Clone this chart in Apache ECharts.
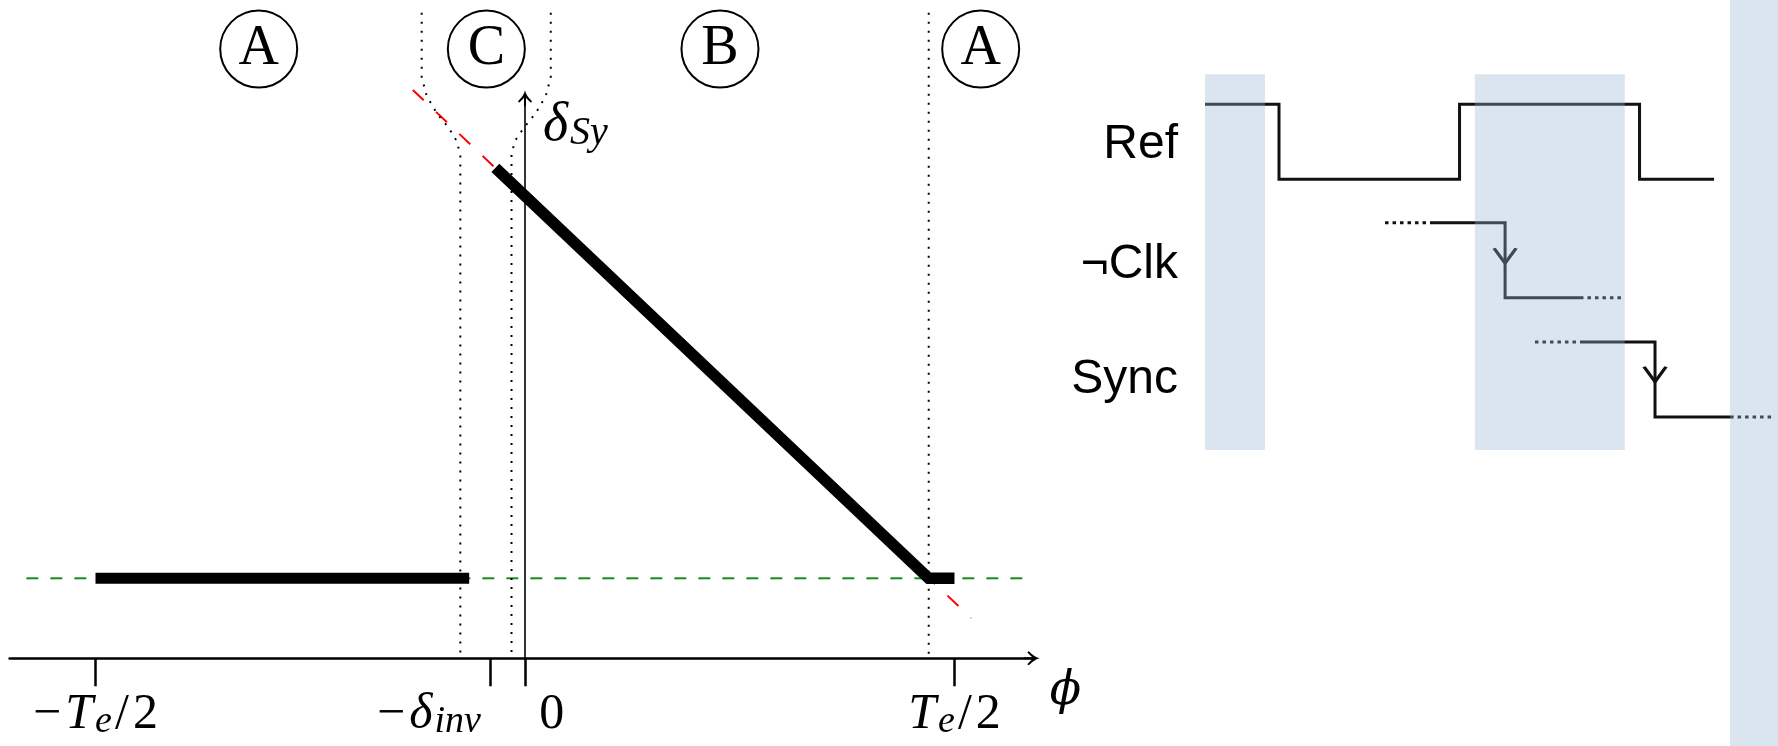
<!DOCTYPE html>
<html><head><meta charset="utf-8">
<script src="https://cdn.jsdelivr.net/npm/echarts@6/dist/echarts.min.js"></script>
<style>html,body{margin:0;padding:0;background:#fff}#c{width:1778px;height:746px}</style>
</head><body><div id="c"></div>
<script>
// ===== Left panel: delta_Sy versus phi (phi in units of Te/2) =====
const tickValues = [-1, -0.0805, 0, 1];
const labelAt    = [-1, -0.2235, 0.0624, 1];
const tickLabels = ['{m|−}{i|T}{s|e}{sl|/}{r|2}', '{m|−}{i|δ}{s|inv}', '{r|0}', '{i|T}{s|e}{sl|/}{r|2}'];
const regionNames = ['A', 'C', 'B', 'A'];
const regionPhi   = [-0.62, -0.09, 0.454, 1.061];
const regionLevel = [1.523, 1.523, 1.523, 1.523];
const flatLeft  = [[-1, 0.2], [-0.13, 0.2]];
const slopeB    = [[-0.069, 1.226], [0.94, 0.2], [1.0, 0.2]];
const redExt    = [[-0.2612, 1.421], [1.0386, 0.101]];
const greenLine = [[-1.161, 0.2], [1.161, 0.2]];
const boundLeft  = [[-0.2405,1.614],[-0.2405,1.453],[-0.2289,1.406],[-0.2056,1.363],[-0.1776,1.326],[-0.159,1.293],[-0.1506,1.258],[-0.1506,0]];
const boundRight = [[0.060,1.614],[0.060,1.453],[0.0484,1.406],[0.0251,1.363],[-0.0028,1.326],[-0.0238,1.293],[-0.0314,1.258],[-0.0314,0]];
const boundA     = [[0.94,1.614],[0.94,0]];

// ===== Right panel: timing diagram (time in half periods of Ref) =====
const refWave   = [[-0.411,4.61],[0,4.61],[0,3.61],[1.003,3.61],[1.003,4.61],[2.003,4.61],[2.003,3.61],[2.417,3.61]];
const clkSolid  = [[0.839,3.03],[1.256,3.03],[1.256,2.03],[1.672,2.03]];
const clkDotted = [[[0.589,3.03],[0.839,3.03]], [[1.672,2.03],[1.917,2.03]]];
const syncSolid = [[1.672,1.44],[2.089,1.44],[2.089,0.44],[2.506,0.44]];
const syncDotted= [[[1.422,1.44],[1.672,1.44]], [[2.506,0.44],[2.756,0.44]]];
const edgeArrows= [[1.256, 2.49], [2.089, 0.91]];
const bands     = [[-0.411,-0.078,0,5.01],[1.088,1.921,0,5.01],[2.506,2.8,-4,6]];
const signalNames = ['Ref', '¬Clk', 'Sync'];
const signalMid   = [4.07, 2.47, 0.93];

const SERIF = "'Liberation Serif', 'Times New Roman', serif";
const PHI_FONT = "'DejaVu Serif', serif";
const ARROW = 'path://M8,0 Q8.8,5 15,11 L14,12.5 Q10.5,9.5 9,7.5 L9,16 L7,16 L7,7.5 Q5.5,9.5 2,12.5 L1,11 Q7.2,5 8,0 Z';

function nearestIdx(arr, v) {
  let b = 0; for (let i = 1; i < arr.length; i++) if (Math.abs(arr[i]-v) < Math.abs(arr[b]-v)) b = i; return b;
}
function seg(data, style, xi) {
  return {type:'line', xAxisIndex:xi||0, yAxisIndex:xi||0, data:data, symbol:'none', clip:false,
          silent:true, lineStyle:style, z:2};
}
const DOT = {type:[2,7], width:2, color:'#000'};
const WAVE = {width:3, color:'#111', join:'miter'};
const WDOT = {width:3, color:'#111', type:[3.5,4]};

const series = [
  seg(greenLine, {type:[12,12], width:2, color:'#1a8c1a'}),
  seg(redExt, {type:[15,17], width:2, color:'#ff0000'}),
  seg(boundLeft, DOT), seg(boundRight, DOT), seg(boundA, DOT),
  Object.assign(seg(flatLeft, {width:11, color:'#000', cap:'butt'}), {z:4}),
  Object.assign(seg(slopeB, {width:11.5, color:'#000', cap:'butt', join:'miter'}), {z:4}),
  {type:'scatter', xAxisIndex:0, yAxisIndex:0, clip:false, silent:true, z:5,
   data: regionPhi.map((x,i)=>[x, regionLevel[i], regionNames[i]]),
   symbol:'circle', symbolSize:77,
   itemStyle:{color:'#fff', borderColor:'#000', borderWidth:2, opacity:1},
   label:{show:true, position:'inside', formatter:p=>p.value[2], opacity:1,
          textBorderWidth:0, textBorderColor:'transparent',
          fontFamily:SERIF, fontSize:56, color:'#000'}},
  seg(refWave, WAVE, 1), seg(clkSolid, WAVE, 1), seg(syncSolid, WAVE, 1),
  ...clkDotted.map(d=>seg(d, WDOT, 1)), ...syncDotted.map(d=>seg(d, WDOT, 1)),
  {type:'scatter', xAxisIndex:1, yAxisIndex:1, data:edgeArrows, silent:true, z:3,
   symbol:'path://M0,0 L11,15 L22,0', symbolSize:[22,15], symbolOffset:[0,-7.5],
   itemStyle:{color:'none', borderColor:'#111', borderWidth:3, opacity:1}},
  {type:'line', xAxisIndex:1, yAxisIndex:1, data:[], silent:true, z:10,
   markArea:{silent:true, z:10, itemStyle:{color:'rgba(150,180,210,0.35)'},
     data: bands.map(b=>[{coord:[b[0], b[2]]}, {coord:[b[1], b[3]]}])}}
];

const option = {
  animation:false, backgroundColor:'#fff',
  grid:[
    {left:9.6, top:98.3, width:1022.2, height:560, outerBoundsMode:'none', containLabel:false},
    {left:1099, top:0, width:684, height:750, outerBoundsMode:'none', containLabel:false}
  ],
  xAxis:[
    {type:'value', gridIndex:0, min:-1.2, max:1.18,
     axisLine:{show:true, onZero:true, symbol:['none', ARROW], symbolSize:[16,16], lineStyle:{color:'#000', width:2.5}},
     axisTick:{show:true, customValues:tickValues, length:28, inside:false, lineStyle:{color:'#000', width:2.5}},
     axisLabel:{show:true, customValues:labelAt, margin:31, color:'#000',
       formatter:(v)=>tickLabels[nearestIdx(labelAt, v)],
       rich:{
         r:{fontFamily:SERIF, fontSize:50, lineHeight:52, color:'#000'},
         m:{fontFamily:SERIF, fontSize:50, lineHeight:52, color:'#000', padding:[0,4,0,0]},
         sl:{fontFamily:SERIF, fontSize:50, lineHeight:52, color:'#000', padding:[0,4,0,3]},
         i:{fontFamily:SERIF, fontStyle:'italic', fontSize:50, lineHeight:52, color:'#000', padding:[0,2,0,0]},
         s:{fontFamily:SERIF, fontStyle:'italic', fontSize:38, lineHeight:26, verticalAlign:'bottom', color:'#000'}
       }},
     splitLine:{show:false},
     name:'ϕ', nameLocation:'end', nameGap:18, nameMoveOverlap:false,
     nameTextStyle:{fontFamily:PHI_FONT, fontStyle:'italic', fontSize:46, color:'#000',
                    verticalAlign:'top', lineHeight:68}},
    {type:'value', gridIndex:1, min:-1, max:2.8, show:false}
  ],
  yAxis:[
    {type:'value', gridIndex:0, min:0, max:1.4,
     axisLine:{show:true, onZero:true, symbol:['none', ARROW], symbolSize:[16,16], lineStyle:{color:'#000', width:1.6}},
     axisTick:{show:false}, axisLabel:{show:false}, splitLine:{show:false},
     name:'{d|δ}{s|Sy}', nameLocation:'end', nameGap:-1, nameMoveOverlap:false,
     nameTextStyle:{align:'left', verticalAlign:'top', padding:[0,0,0,18],
       rich:{
         d:{fontFamily:SERIF, fontStyle:'italic', fontSize:54, lineHeight:54, color:'#000'},
         s:{fontFamily:SERIF, fontStyle:'italic', fontSize:40, lineHeight:28, verticalAlign:'bottom', color:'#000', padding:[0,0,0,2]}
       }}},
    {type:'value', gridIndex:1, min:-4, max:6,
     axisLine:{show:false}, axisTick:{show:false}, splitLine:{show:false},
     axisLabel:{show:true, customValues:signalMid, margin:-79, color:'#000',
       fontFamily:"'Liberation Sans', Arial, sans-serif", fontSize:48,
       formatter:(v)=>signalNames[nearestIdx(signalMid, v)]}}
  ],
  series: series
};
const chart = echarts.init(document.getElementById('c'), null, {renderer:'canvas'});
chart.setOption(option);
</script></body></html>
